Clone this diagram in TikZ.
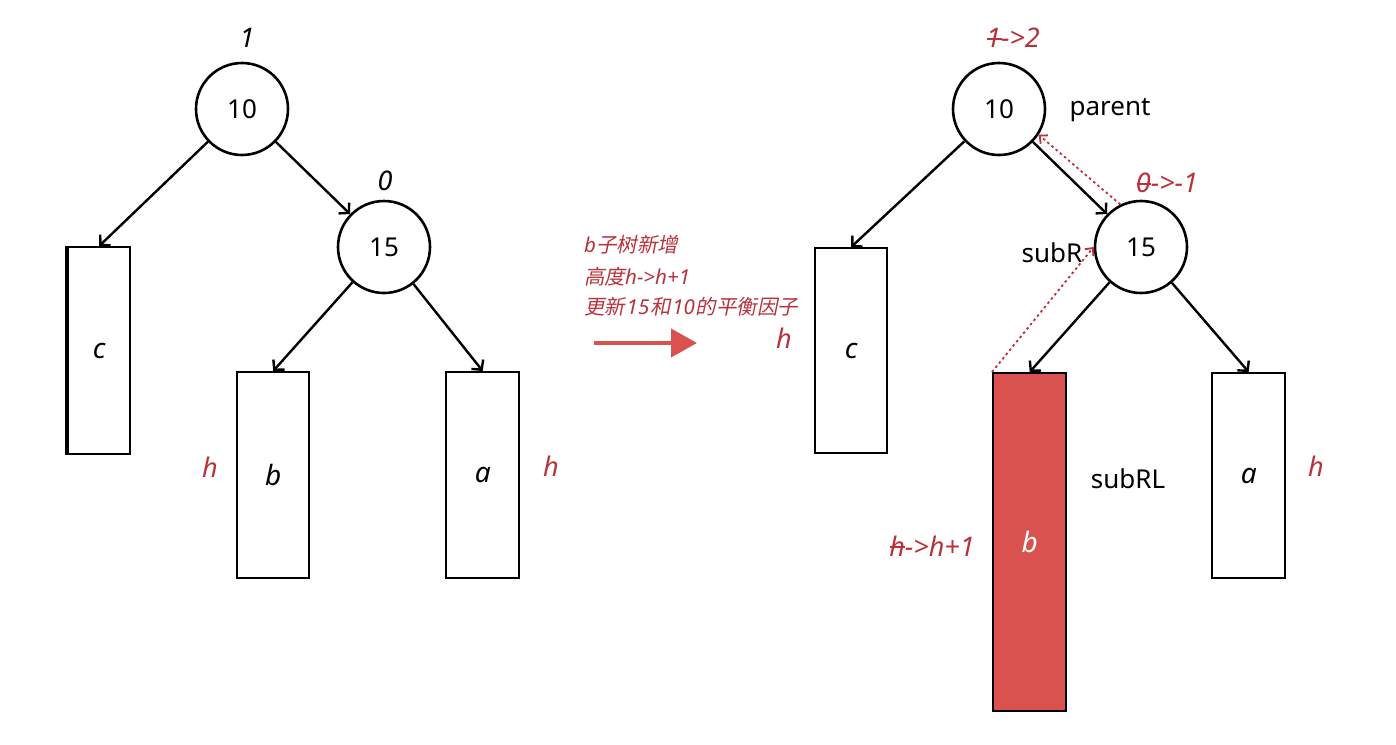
\documentclass[tikz,border=0pt]{standalone}
\usepackage{fontspec}
\setmainfont{Noto Sans}
\newfontfamily\cjk[FakeSlant=0.2]{Noto Sans CJK SC}
\usetikzlibrary{arrows.meta}
\definecolor{txtred}{RGB}{184,50,60}
\definecolor{boxred}{RGB}{217,82,80}
\newcommand\strk[1]{{\rlap{\kern0.02em\rule[0.3em]{0.55em}{0.07em}}#1}}
\begin{document}
\begin{tikzpicture}[x=1pt,y=-1pt,
 circ/.style={circle,draw,line width=2.6pt,minimum size=92pt,inner sep=0pt,font=\fontsize{26}{30}\selectfont},
 tbox/.style={draw,line width=2.4pt,anchor=north west,inner sep=0pt,font=\fontsize{28}{32}\selectfont\itshape},
 edge/.style={line width=2.4pt,-{Straight Barb[length=7pt,width=15pt,line width=2.4pt]}},
 dotarr/.style={txtred,line width=1.8pt,dash pattern=on 2.5pt off 3pt,-{Straight Barb[length=6pt,width=11pt,line width=1.8pt]}},
 rlab/.style={txtred,font=\fontsize{27}{32}\selectfont\itshape},
 blab/.style={font=\fontsize{27}{32}\selectfont\itshape},
 wlab/.style={font=\fontsize{26}{30}\selectfont},
 ctext/.style={txtred,anchor=west,inner sep=0pt,font=\fontsize{20.5}{24}\selectfont\itshape},
 ]
\useasboundingbox (0,0) rectangle (1396,744);
\fill[white] (0,0) rectangle (1396,744);

% ---------- left tree ----------
\node[circ] (L10) at (242,109) {10};
\node[circ] (L15) at (384,247) {15};
\node[tbox,minimum width=62pt,minimum height=207pt] (Lc) at (67,246) {c};
\node[tbox,minimum width=72pt,minimum height=206pt] (Lb) at (236,371) {b};
\node[tbox,minimum width=73pt,minimum height=206pt] (La) at (445,371) {a};
\draw[line width=4.5pt] (Lc.north west) -- (Lc.south west);
\node[blab] (L10bf) at (247,38) {1};
\node[blab] (L15bf) at (385,181) {0};
\node[rlab] (Lhb) at (210,467) {h};
\node[rlab] (Lha) at (551,466) {h};
\draw[edge] (L10) -- (Lc.north);
\draw[edge] (L10) -- (L15);
\draw[edge] (L15) -- (Lb.north);
\draw[edge] (L15) -- (La.north);

% ---------- middle ----------
\node[ctext] (t1) at (584,245) {b{\cjk 子树新增}};
\node[ctext] (t2) at (584,277) {{\cjk 高度}h->h+1};
\node[ctext] (t3) at (584,307) {{\cjk 更新}\kern1.5pt 15\kern1pt{\cjk 和}\kern1.5pt 10\kern1pt{\cjk 的平衡因子}};
\coordinate (as) at (594,343);
\coordinate (ae) at (697,343);
\draw[boxred,line width=4pt,-{Triangle[length=26pt,width=28pt]}] (as) -- (ae);
\node[rlab] (Mh) at (784,338) {h};

% ---------- right tree ----------
\node[circ] (R10) at (999,109) {10};
\node[circ] (R15) at (1141,247) {15};
\node[tbox,minimum width=72pt,minimum height=205pt] (Rc) at (814,247) {c};
\node[tbox,fill=boxred,text=white,minimum width=73pt,minimum height=338pt] (Rb) at (992,372) {b};
\node[tbox,minimum width=73pt,minimum height=205pt] (Ra) at (1211,372) {a};
\node[rlab] (R10bf) at (1013,38) {\strk{1}->2};
\node[rlab] (R15bf) at (1167,183) {\strk{0}->-1};
\node[wlab] (par) at (1110,110) {parent};
\node[wlab] (subR) at (1052,253) {subR};
\node[wlab] (subRL) at (1128,479) {subRL};
\node[rlab] (Rha) at (1316,466) {h};
\node[rlab] (Rhb) at (932,546) {\strk{h}->h+1};
\draw[edge] (R10) -- (Rc.north);
\draw[edge] (R10) -- (R15);
\draw[edge] (R15) -- (Rb.north);
\draw[edge] (R15) -- (Ra.north);
\draw[dotarr] (Rb.north west) -- (R15.west);
\draw[dotarr] (R15.116) -- (R10.-33);
\end{tikzpicture}
\end{document}
